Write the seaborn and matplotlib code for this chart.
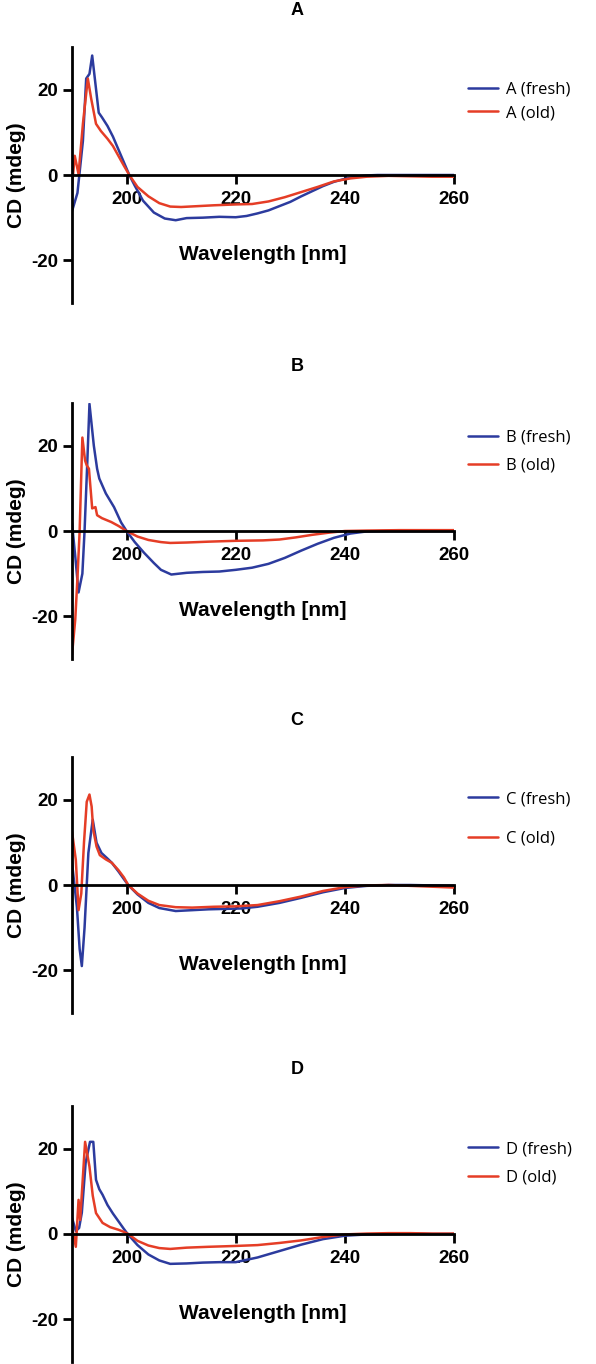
import matplotlib
matplotlib.use("Agg")
import matplotlib.pyplot as plt
import seaborn as sns

sns.set_style("ticks")
plt.rcParams["font.family"] = ["Liberation Sans", "DejaVu Sans"]
plt.rcParams["axes.unicode_minus"] = False
plt.rcParams["text.color"] = "black"

# ---- data (wavelength nm, CD mdeg) ----
panels = ["A", "B", "C", "D"]

a_fresh_wl = [190, 191, 192, 192.6, 193.2, 193.7, 194.9, 195.5, 196.5, 197.5, 198.5, 199.5, 200.5, 201.5,
              203, 205, 207, 209, 211, 214, 217, 220, 222, 224, 226, 228, 230, 232, 234, 236, 238, 240,
              242, 244, 246, 250, 255, 260]
a_fresh_cd = [-8.5, -4.2, 8, 22.6, 23.7, 28, 14.6, 13.5, 11.5, 9, 6, 3, 0, -2.5,
              -6, -8.8, -10.2, -10.6, -10.1, -10, -9.8, -9.9, -9.6, -9, -8.3, -7.3, -6.3, -5, -3.8, -2.6, -1.6, -0.9,
              -0.4, -0.1, 0, 0, 0, 0]
a_old_wl = [190, 190.5, 191.2, 192, 192.9, 193.5, 194.4, 195.3, 196.5, 197.5, 198.5, 199.5, 200.5, 202,
            204, 206, 208, 210, 213, 216, 220, 223, 226, 229, 232, 235, 238, 241, 244, 248, 252, 256, 260]
a_old_cd = [-2.6, 4.5, 0.2, 12, 22.6, 18, 12, 10.3, 8.5, 6.8, 4.5, 2.2, 0, -2.8,
            -5, -6.6, -7.4, -7.5, -7.3, -7.1, -6.9, -6.8, -6.2, -5.2, -4, -2.8, -1.5, -0.8, -0.4, -0.2, -0.3, -0.4, -0.4]

b_fresh_wl = [190, 190.6, 191.2, 191.9, 192.3, 192.8, 193.2, 194, 194.6, 195, 196.2, 197.7, 199, 200,
              201.5, 203.2, 205, 206.3, 208.2, 211, 214, 217, 220, 223, 226, 229, 232, 235, 238, 241,
              244, 248, 252, 256, 260]
b_fresh_cd = [1.9, -6, -14.4, -10, 0, 16, 29.8, 20, 14.6, 12.3, 8.8, 5.6, 2, 0,
              -2.6, -5.1, -7.5, -9.1, -10.2, -9.8, -9.6, -9.5, -9.1, -8.6, -7.7, -6.3, -4.6, -3, -1.6, -0.6,
              -0.1, 0, 0, 0, 0]
b_old_wl = [190, 190.6, 191, 191.4, 191.9, 192.4, 192.7, 193.1, 193.7, 194.3, 194.6, 195.5, 197.2, 198.5,
            200, 202, 204, 206.3, 208, 211, 215, 220, 225, 228, 231, 234, 237, 240, 244, 250, 255, 260]
b_old_cd = [-29, -20.7, -11, 0, 21.9, 16.5, 15.4, 14.6, 5.3, 5.6, 3.7, 3, 2.1, 1.2,
            0, -1.3, -2.1, -2.6, -2.8, -2.7, -2.5, -2.3, -2.2, -2, -1.5, -0.9, -0.4, 0, 0.1, 0.2, 0.2, 0.2]

c_fresh_wl = [190, 190.9, 191.4, 191.8, 192.3, 193, 193.8, 194.5, 195.4, 196.5, 197.3, 198.5, 199.5, 200.3,
              202, 204, 206, 209, 212, 215, 218, 221, 224, 228, 232, 236, 240, 244, 248, 252, 256, 260]
c_fresh_cd = [5.2, -5.2, -15, -19, -10, 7.5, 15.3, 9.9, 7.5, 6.2, 5.2, 3.2, 1.4, 0,
              -2.2, -4.2, -5.4, -6.1, -5.9, -5.7, -5.6, -5.5, -5.1, -4.2, -3, -1.7, -0.7, -0.2, 0, 0, -0.1, -0.2]
c_old_wl = [190, 190.7, 191.2, 191.7, 192.2, 192.7, 193.2, 193.6, 193.9, 194.5, 195.1, 196.2, 197.3, 198.5,
            199.5, 200.3, 202, 204, 206, 209, 212, 216, 220, 224, 228, 232, 236, 240, 244, 248, 252, 256, 260]
c_old_cd = [12.5, 5.9, -5.9, -2, 10, 19.5, 21.2, 18.4, 12.9, 9, 7, 6, 5.2, 3.5,
            1.8, 0, -2, -3.7, -4.7, -5.2, -5.3, -5.1, -5, -4.7, -3.8, -2.7, -1.4, -0.5, -0.1, 0, -0.2, -0.4, -0.6]

d_fresh_wl = [190, 190.7, 191.3, 191.8, 192.5, 193.3, 193.9, 194.4, 195, 195.6, 196.5, 197.5, 198.5, 199.5,
              200.2, 202, 204, 206, 208, 211, 214, 217, 220, 224, 228, 232, 236, 240, 244, 248, 252, 256, 260]
d_fresh_cd = [3.8, 0.7, 1.4, 5, 16.7, 21.6, 21.6, 12.7, 10.5, 9.2, 6.8, 4.8, 3, 1.2,
              0, -2.6, -4.8, -6.2, -7, -6.9, -6.7, -6.6, -6.6, -5.5, -4, -2.5, -1.2, -0.4, -0.1, 0, 0.1, 0, 0]
d_old_wl = [190, 190.7, 191.2, 191.5, 192.4, 193.2, 193.8, 194.4, 195.6, 197, 198.5, 199.5, 200.3, 202,
            204, 206, 208, 211, 215, 220, 224, 228, 232, 236, 240, 244, 248, 252, 256, 260]
d_old_cd = [1.6, -3, 8, 3.3, 21.6, 15.8, 9, 4.9, 2.6, 1.6, 1, 0.5, 0, -1.6,
            -2.7, -3.3, -3.5, -3.2, -3, -2.8, -2.6, -2.1, -1.5, -0.7, -0.1, 0.1, 0.2, 0.2, 0.1, 0.1]

fresh = [(a_fresh_wl, a_fresh_cd), (b_fresh_wl, b_fresh_cd), (c_fresh_wl, c_fresh_cd), (d_fresh_wl, d_fresh_cd)]
old = [(a_old_wl, a_old_cd), (b_old_wl, b_old_cd), (c_old_wl, c_old_cd), (d_old_wl, d_old_cd)]

x_ticks = [200, 220, 240, 260]
y_ticks = [-20, 0, 20]

# ---- layout (pixels) ----
W, H = 596, 1364
ax_left, ax_right = 72, 454
ax_tops = [47, 403, 757, 1106]
ax_h = 256
leg_top = [35, 27, 34, 35]
leg_space = [0.42, 0.7, 1.4, 0.75]

blue = "#2c3b9e"
red = "#e53d26"

fig = plt.figure(figsize=(W / 100, H / 100), dpi=100)

for i, name in enumerate(panels):
    top = ax_tops[i]
    ax = fig.add_axes([ax_left / W, 1 - (top + ax_h) / H, (ax_right - ax_left) / W, ax_h / H])

    sns.lineplot(x=fresh[i][0], y=fresh[i][1], ax=ax, color=blue, linewidth=1.8,
                 label=f"{name} (fresh)", sort=False, estimator=None)
    sns.lineplot(x=old[i][0], y=old[i][1], ax=ax, color=red, linewidth=1.8,
                 label=f"{name} (old)", sort=False, estimator=None)

    ax.set_xlim(190, 260)
    ax.set_ylim(-30, 30)
    ax.set_xticks(x_ticks)
    ax.set_yticks(y_ticks)
    ax.spines["top"].set_visible(False)
    ax.spines["right"].set_visible(False)
    ax.spines["bottom"].set_position(("data", 0))
    for s in ["left", "bottom"]:
        ax.spines[s].set_linewidth(2)
        ax.spines[s].set_color("black")
    ax.tick_params(axis="both", length=6.5, width=2, labelsize=13.5, color="black", labelcolor="black")
    ax.tick_params(axis="x", pad=5)
    ax.tick_params(axis="y", pad=3.5)
    for lab in ax.get_xticklabels() + ax.get_yticklabels():
        lab.set_fontweight("bold")

    ax.set_xlabel("Wavelength [nm]", fontsize=15, fontweight="bold", color="black")
    ax.xaxis.set_label_coords(0.5, 0.225)
    ax.set_ylabel("CD (mdeg)", fontsize=15, fontweight="bold", color="black")
    ax.yaxis.set_label_coords(-0.12, 0.5)

    ax.set_title(name, fontsize=13, fontweight="bold", color="black",
                 x=(297 - ax_left) / (ax_right - ax_left), pad=23)

    ax.legend(loc="upper left", bbox_to_anchor=((468 - ax_left) / (ax_right - ax_left), 1 - leg_top[i] / ax_h),
              frameon=False, borderpad=0, borderaxespad=0, handlelength=1.8, handletextpad=0.5,
              labelspacing=leg_space[i], labelcolor="black", prop={"family": "Open Sans", "size": 12})

fig.savefig("out.png", dpi=100)
